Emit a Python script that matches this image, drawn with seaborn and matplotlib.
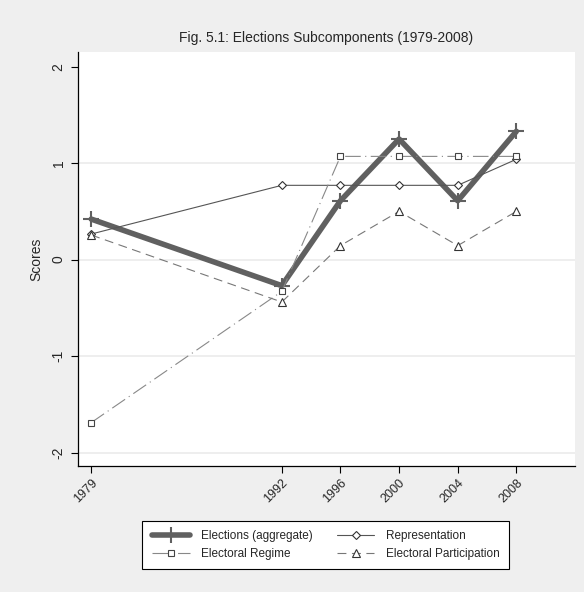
import numpy as np
import pandas as pd
import matplotlib
matplotlib.use("Agg")
import matplotlib.pyplot as plt
import seaborn as sns

# data
years = [1979, 1992, 1996, 2000, 2004, 2008]
aggregate = [0.42, -0.27, 0.61, 1.25, 0.61, 1.33]
representation = [0.265, 0.77, 0.77, 0.77, 0.77, 1.04]
regime = [-1.69, -0.33, 1.07, 1.07, 1.07, 1.07]
participation = [0.255, -0.44, 0.145, 0.50, 0.145, 0.50]

sns.set_style("white")
plt.rcParams['font.family'] = ['Liberation Sans', 'DejaVu Sans']

bg = "#efefef"
fig = plt.figure(figsize=(5.84, 5.92), dpi=100, facecolor=bg)
ax = fig.add_axes([0.1336, 0.2128, 0.851, 0.699])
ax.set_facecolor("white")

# gridlines
for v in [1, 0, -1, -2]:
    ax.axhline(v, color="#ebebeb", lw=1.2, zorder=0)

sns.lineplot(x=years, y=aggregate, ax=ax, color="#606060", lw=4,
             marker="+", markersize=11, markeredgewidth=1.5,
             markeredgecolor="#606060", label="Elections (aggregate)")
sns.lineplot(x=years, y=representation, ax=ax, color="#555555", lw=0.8,
             marker="D", markersize=4.5, markerfacecolor="white",
             markeredgecolor="#333333", markeredgewidth=0.8,
             label="Representation")
sns.lineplot(x=years, y=regime, ax=ax, color="#888888", lw=0.8,
             linestyle=(0, (14, 4, 1, 4)), marker="s", markersize=5,
             markerfacecolor="white", markeredgecolor="#444444",
             markeredgewidth=0.8, label="Electoral Regime")
sns.lineplot(x=years, y=participation, ax=ax, color="#777777", lw=0.8,
             linestyle=(0, (8, 5)), marker="^", markersize=5.5,
             markerfacecolor="white", markeredgecolor="#333333",
             markeredgewidth=0.8, label="Electoral Participation")

ax.set_xlim(1978.1, 2012)
ax.set_ylim(-2.14, 2.15)
ax.set_xticks(years)
ax.set_xticklabels([str(y) for y in years], rotation=45, ha="right",
                   rotation_mode="anchor", fontsize=9)
ax.set_yticks([-2, -1, 0, 1, 2])
ax.set_yticklabels(["-2", "-1", "0", "1", "2"], rotation=90, va="center",
                   fontsize=10)
ax.tick_params(axis="both", length=5, width=0.8, color="black",
               direction="out", bottom=True, left=True)
ax.tick_params(axis="y", pad=4)
ax.tick_params(axis="x", pad=3)
ax.set_ylabel("Scores", fontsize=10, labelpad=6)
ax.set_xlabel("")

for s in ["top", "right"]:
    ax.spines[s].set_visible(False)
for s in ["left", "bottom"]:
    ax.spines[s].set_color("black")
    ax.spines[s].set_linewidth(0.9)

fig.text(0.558, 0.936, "Fig. 5.1: Elections Subcomponents (1979-2008)",
         ha="center", va="center", fontsize=10)

ax.get_legend().remove()
handles, labels = ax.get_legend_handles_labels()
order = [0, 2, 1, 3]
leg = fig.legend([handles[i] for i in order], [labels[i] for i in order],
                 loc="center", bbox_to_anchor=(0.558, 0.0794),
                 ncol=2, fontsize=8.5, frameon=True, fancybox=False,
                 edgecolor="black", facecolor="white", framealpha=1,
                 handlelength=3.2, columnspacing=2.0, borderpad=0.8,
                 handletextpad=1.0, labelspacing=0.5)
leg.get_frame().set_linewidth(0.8)

fig.savefig("out.png", dpi=100, facecolor=bg)
